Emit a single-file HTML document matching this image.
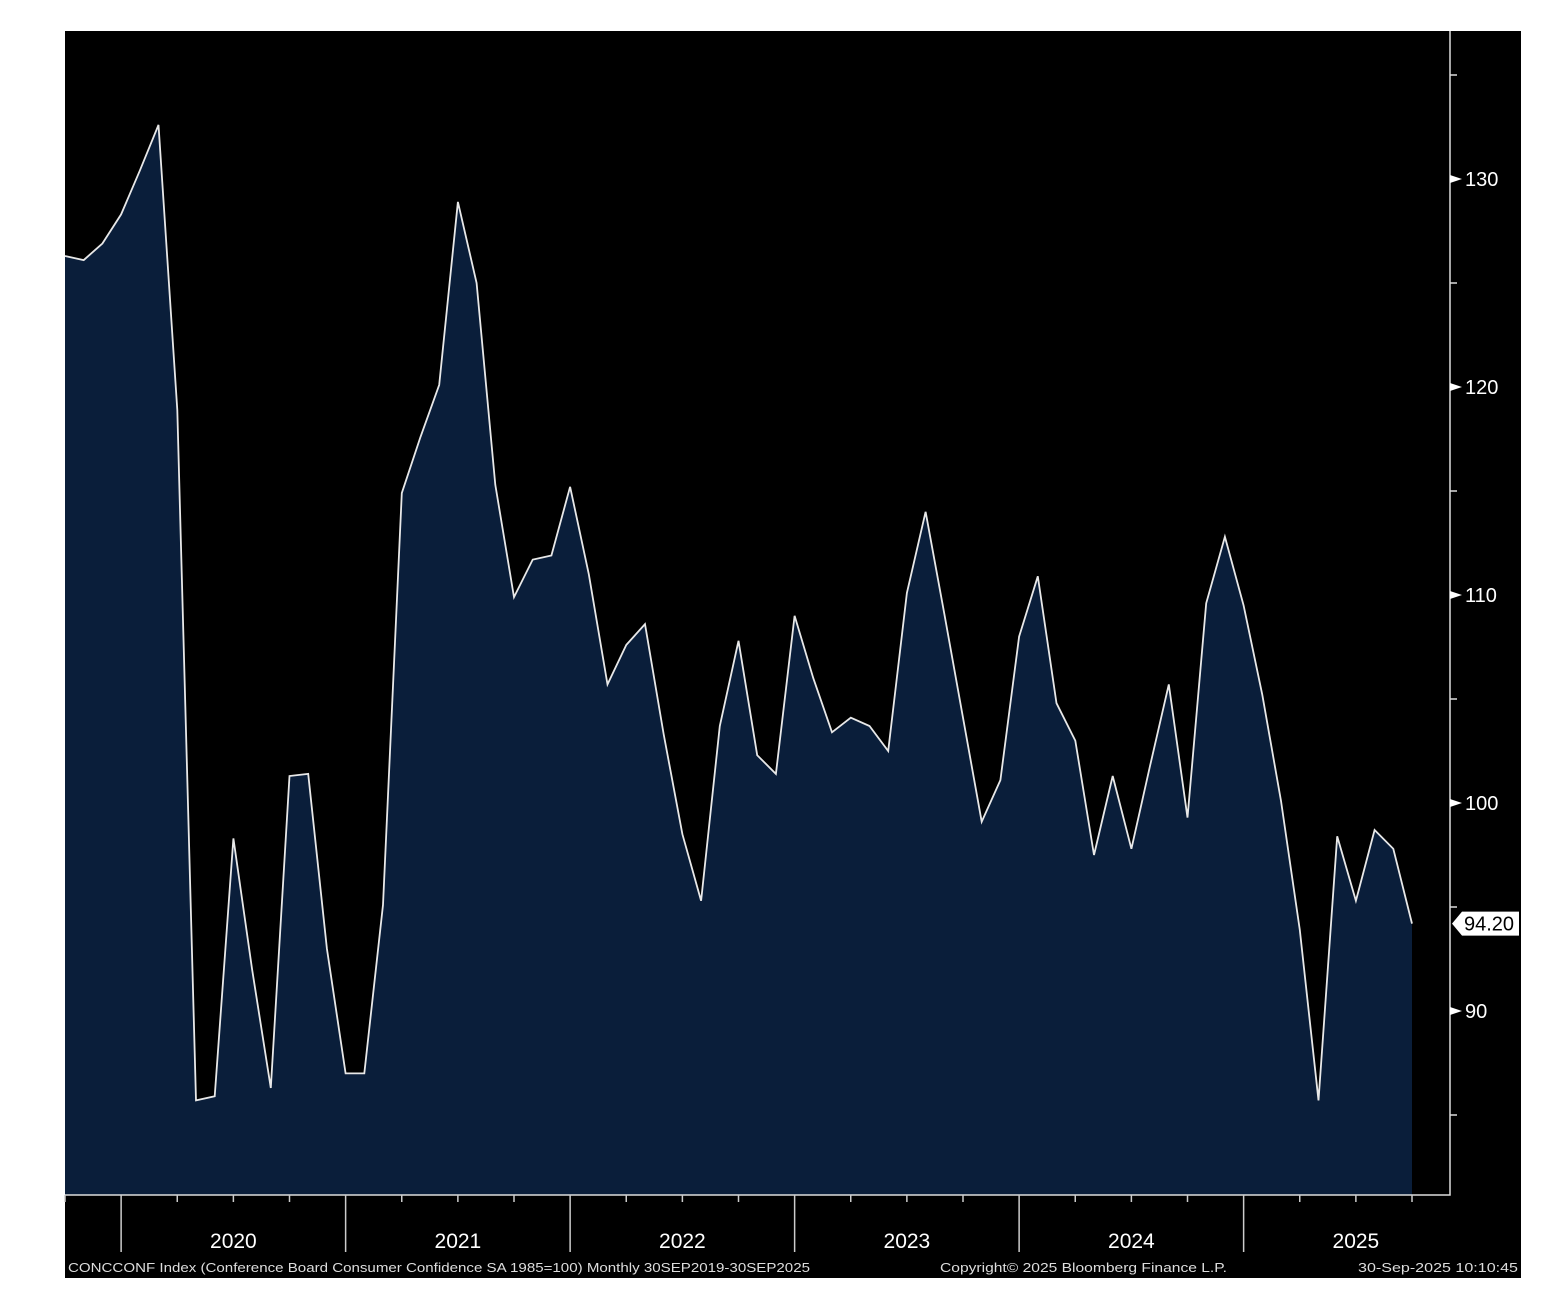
<!DOCTYPE html>
<html><head><meta charset="utf-8"><style>
body{margin:0;background:#fff;width:1544px;height:1302px;overflow:hidden}
svg{display:block}
text{font-family:"Liberation Sans",sans-serif}
</style></head><body>
<svg id="chart" width="1544" height="1302" xmlns="http://www.w3.org/2000/svg">
<rect x="65" y="31" width="1456" height="1247" fill="#000"/>
<g id="plot"></g>
</svg>
<script>
const values=[126.3,126.1,126.9,128.3,130.4,132.6,118.9,85.7,85.9,98.3,92.0,86.3,101.3,101.4,93.0,87.0,87.0,95.1,114.9,117.6,120.1,128.9,125.0,115.3,109.9,111.7,111.9,115.2,111.0,105.7,107.6,108.6,103.3,98.5,95.3,103.7,107.8,102.3,101.4,109.0,106.0,103.4,104.1,103.7,102.5,110.1,114.0,109.1,104.1,99.1,101.1,108.0,110.9,104.8,103.0,97.5,101.3,97.8,101.8,105.7,99.3,109.6,112.8,109.5,105.2,100.1,93.9,85.7,98.4,95.3,98.7,97.8,94.2];
const yTicks=[85,90,95,100,105,110,115,120,125,130,135];
const yLabels=[90,100,110,120,130];
const years=["2020","2021","2022","2023","2024","2025"];
const lastLabel="94.20";
const NS="http://www.w3.org/2000/svg";
const g=document.getElementById('plot');
const X0=65,XSTEP=(1412-65)/72,BOTTOM=1195;
const x=i=>X0+i*XSTEP;
const y=v=>803-(v-100)*20.8;
function el(t,a){const e=document.createElementNS(NS,t);for(const k in a)e.setAttribute(k,a[k]);g.appendChild(e);return e;}
let pts=values.map((v,i)=>x(i).toFixed(1)+','+y(v).toFixed(1));
const area=el('polygon',{points:x(0)+','+BOTTOM+' '+pts.join(' ')+' '+x(values.length-1)+','+BOTTOM,fill:'#0a1e3a'});


const line=el('polyline',{points:pts.join(' '),fill:'none',stroke:'#e8e8e8','stroke-width':1.8});


const ax=el('path',{d:'M65 1195H1450V31',fill:'none',stroke:'#ddd','stroke-width':1.5});


yTicks.forEach(t=>{
 const yy=y(t);
 if(yLabels.includes(t)){
  const p=el('polygon',{points:`1450,${yy-4} 1462,${yy} 1450,${yy+4}`,fill:'#fff'});
  
  
  const tx=el('text',{x:1465,y:yy+7,fill:'#fff','font-size':20});
  tx.textContent=t;
  
  
 } else {
  const l=el('line',{x1:1450,x2:1457,y1:yy,y2:yy,stroke:'#ddd','stroke-width':1.5});
  
  
 }
});
for(let q=0;q*3<=72;q++){
 const i=q*3, xx=x(i);
 const isYear=(i-3)%12===0;
 const l=el('line',{x1:xx,x2:xx,y1:1195,y2:isYear?1252:1202,stroke:'#ccc','stroke-width':1.5});
 
 
}
years.forEach((yr,k)=>{
 const t=el('text',{x:x(3+12*k+6),y:1248,fill:'#fff','font-size':21,'text-anchor':'middle'});
 t.textContent=yr;
 
 
});
const ly=y(values[values.length-1]);
const tag=el('polygon',{points:`1452,${ly} 1462,${ly-12} 1519,${ly-12} 1519,${ly+12} 1462,${ly+12}`,fill:'#fff'});


const tt=el('text',{x:1464,y:ly+7,fill:'#000','font-size':20});
tt.textContent=lastLabel;


const f1=el('text',{x:68,y:1272,fill:'#ddd','font-size':12.5,'font-family':'Liberation Mono, monospace',textLength:742,lengthAdjust:'spacingAndGlyphs'});
f1.textContent='CONCCONF Index (Conference Board Consumer Confidence SA 1985=100) Monthly 30SEP2019-30SEP2025';


const f2=el('text',{x:940,y:1272,fill:'#ddd','font-size':12.5,'font-family':'Liberation Mono, monospace',textLength:287,lengthAdjust:'spacingAndGlyphs'});
f2.textContent='Copyright\u00A9 2025 Bloomberg Finance L.P.';


const f3=el('text',{x:1358,y:1272,fill:'#ddd','font-size':12.5,'font-family':'Liberation Mono, monospace',textLength:160,lengthAdjust:'spacingAndGlyphs'});
f3.textContent='30-Sep-2025 10:10:45';


</script>
</body></html>
